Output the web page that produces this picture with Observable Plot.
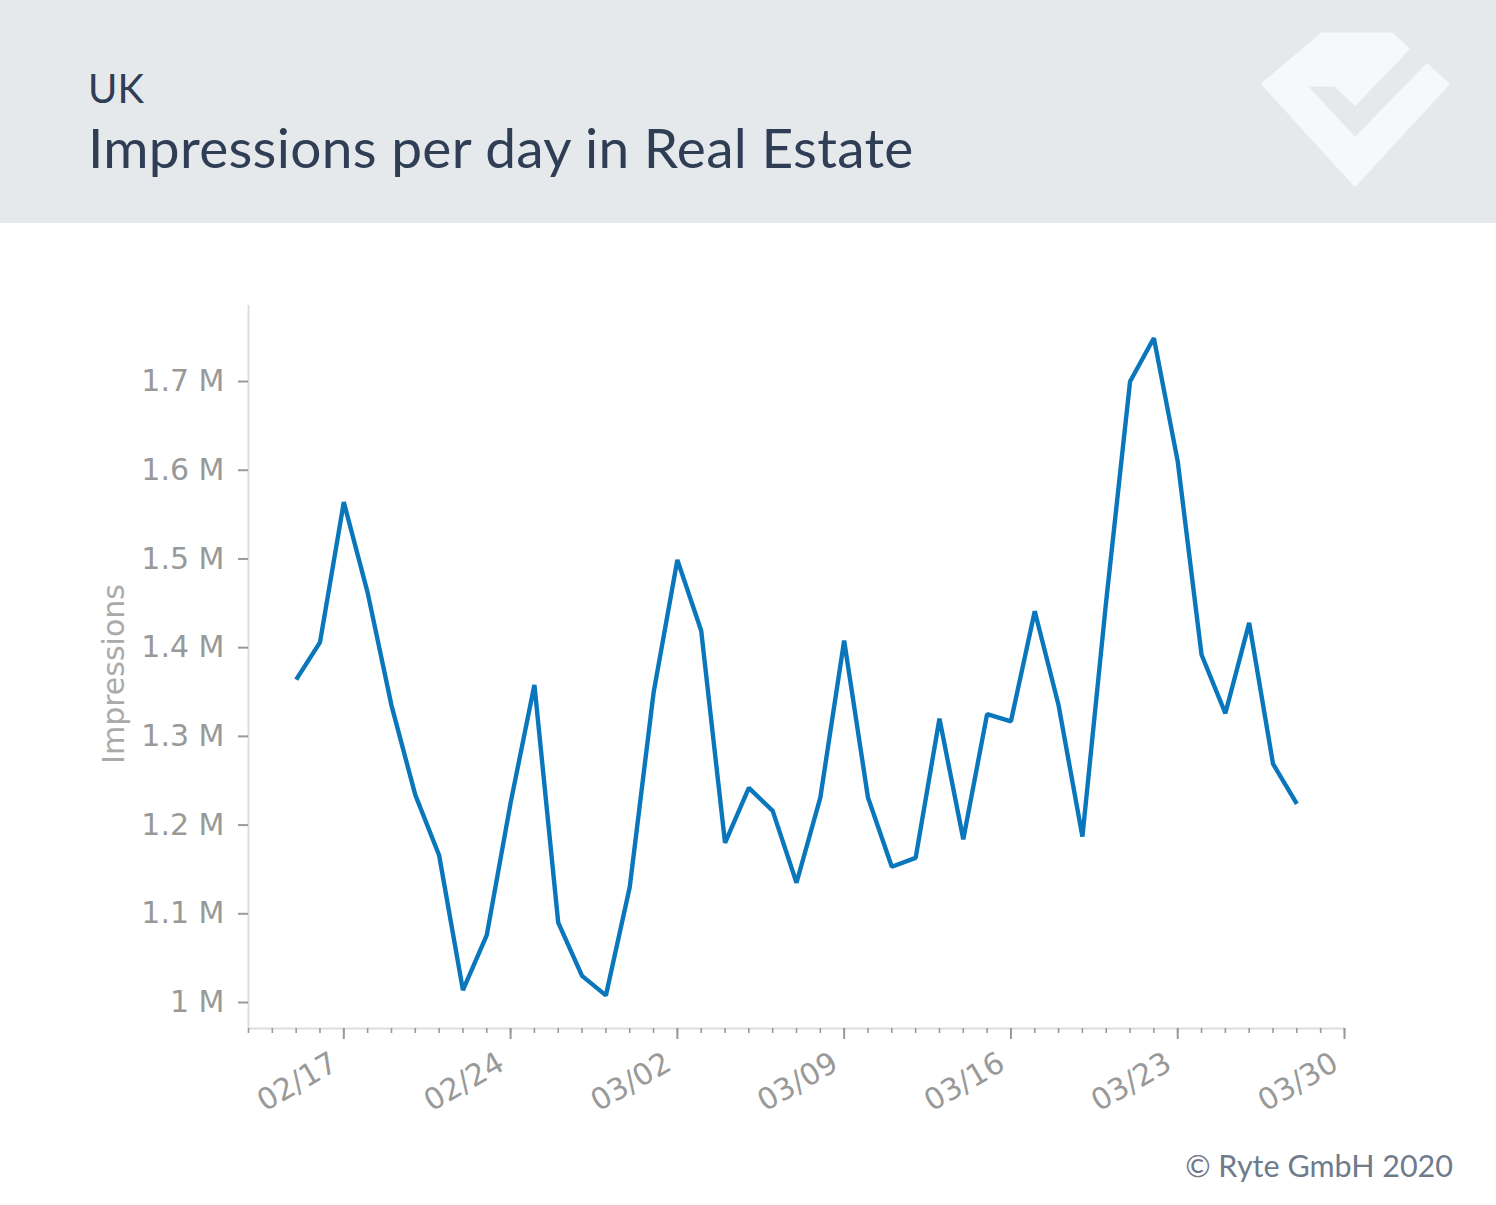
<!DOCTYPE html>
<html>
<head>
<meta charset="utf-8">
<script src="https://cdn.jsdelivr.net/npm/d3@7"></script>
<script src="https://cdn.jsdelivr.net/npm/@observablehq/plot@0.6"></script>
<style>
  html, body { margin: 0; padding: 0; background: #ffffff; }
  body { width: 1496px; height: 1205px; overflow: hidden; }
  svg { display: block; }
</style>
</head>
<body>
<svg id="header" width="1496" height="223" xmlns="http://www.w3.org/2000/svg">
  <rect x="0" y="0" width="1496" height="223" fill="#e6e9ec"></rect>
  <text x="88" y="103" font-family="Lato" font-size="40" fill="#2f3e55">UK</text>
  <text x="88" y="168" font-family="Lato" font-size="55" letter-spacing="0.3" fill="#2f3e55">Impressions per day in Real Estate</text>
  <path d="M1322,34 L1392,34 L1408,49 L1355,104 L1335,85 L1305,85 L1355,139 L1427,65 L1448,84 L1355,185 L1263,84 Z"
        fill="#f7f8fa" stroke="#f7f8fa" stroke-width="3" stroke-linejoin="round"></path>
</svg>
<div id="chart"></div>
<svg id="footer" width="1496" height="65" xmlns="http://www.w3.org/2000/svg">
  <text x="1453" y="37" text-anchor="end" font-family="Lato" font-size="30.5" fill="#6f7b8b">© Ryte GmbH 2020</text>
</svg>
<script>
// ---- data ----
const dates = [
  "2020-02-15","2020-02-16","2020-02-17","2020-02-18","2020-02-19","2020-02-20","2020-02-21",
  "2020-02-22","2020-02-23","2020-02-24","2020-02-25","2020-02-26","2020-02-27","2020-02-28",
  "2020-02-29","2020-03-01","2020-03-02","2020-03-03","2020-03-04","2020-03-05","2020-03-06",
  "2020-03-07","2020-03-08","2020-03-09","2020-03-10","2020-03-11","2020-03-12","2020-03-13",
  "2020-03-14","2020-03-15","2020-03-16","2020-03-17","2020-03-18","2020-03-19","2020-03-20",
  "2020-03-21","2020-03-22","2020-03-23","2020-03-24","2020-03-25","2020-03-26","2020-03-27",
  "2020-03-28"
];
const impressions = [
  1364000, 1406000, 1564000, 1462000, 1335000, 1234000, 1166000,
  1014000, 1076000, 1225000, 1358000, 1090000, 1030000, 1008000,
  1130000, 1349000, 1499000, 1419000, 1180000, 1242000, 1216000,
  1135000, 1231000, 1408000, 1231000, 1153000, 1163000, 1320000,
  1184000, 1325000, 1317000, 1441000, 1335000, 1187000, 1453000,
  1700000, 1749000, 1610000, 1392000, 1326000, 1428000, 1269000,
  1224000
];
const yTickValuesM = [1.0, 1.1, 1.2, 1.3, 1.4, 1.5, 1.6, 1.7];
const xTickLabels = ["02/17", "02/24", "03/02", "03/09", "03/16", "03/23", "03/30"];
const xDomainStrings = ["2020-02-13", "2020-03-30"];
const yDomain = [970700, 1785700];
const yLabel = "Impressions";

// ---- build ----
const data = dates.map((d, i) => ({date: new Date(d), value: impressions[i]}));
const xDomain = xDomainStrings.map(s => new Date(s));
const majorTicks = xTickLabels.map(s => new Date("2020-" + s.replace("/", "-")));
const minorTicks = d3.utcDays(xDomain[0], d3.utcDay.offset(xDomain[1], 1));

const chart = Plot.plot({
  width: 1496,
  height: 917,
  marginTop: 82,
  marginBottom: 112,
  marginLeft: 248,
  marginRight: 152,
  style: {fontFamily: "DejaVu Sans", background: "transparent", overflow: "visible"},
  x: {type: "utc", domain: xDomain},
  y: {domain: yDomain},
  marks: [
    Plot.ruleX([xDomain[0]], {stroke: "#dddddd", strokeWidth: 2}),
    Plot.ruleY([yDomain[0]], {stroke: "#dddddd", strokeWidth: 2}),
    Plot.axisY(yTickValuesM.map(v => v * 1e6), {
      tickSize: 10, tickPadding: 14,
      tickFormat: d => `${+(d / 1e6).toFixed(1)} M`,
      stroke: "#999999", strokeWidth: 2, fill: "#999999", fontSize: 30,
      label: null
    }),
    Plot.axisX(minorTicks, {
      tickSize: 5, tickFormat: () => "", stroke: "#999999", strokeWidth: 1.6, label: null
    }),
    Plot.axisX(majorTicks, {
      tickSize: 11, tickFormat: () => "", stroke: "#999999", strokeWidth: 2, label: null
    }),
    Plot.axisX(majorTicks, {
      tickSize: 0, tickPadding: 32, tickRotate: -30, dx: -9,
      tickFormat: (d, i) => xTickLabels[i],
      fill: "#999999", fontSize: 30, label: null
    }),
    Plot.text([yLabel], {
      frameAnchor: "left", text: d => d, rotate: -90, textAnchor: "middle",
      dx: -134, dy: 7, fill: "#aaaaaa", fontSize: 30
    }),
    Plot.line(data, {
      x: "date", y: "value", stroke: "#0a77bd", strokeWidth: 4.4,
      strokeLinejoin: "miter", strokeLinecap: "butt"
    })
  ]
});
document.getElementById("chart").appendChild(chart);
</script>
</body>
</html>
